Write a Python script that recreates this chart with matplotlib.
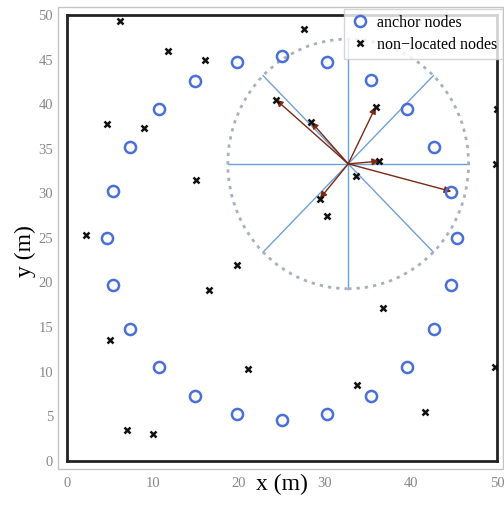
import matplotlib
matplotlib.use("Agg")
import matplotlib.pyplot as plt
from matplotlib.patches import Circle, Rectangle
import numpy as np

plt.rcParams['font.family'] = ['Liberation Serif', 'DejaVu Serif']

anchor_x = [19.8, 25.0, 30.2, 35.3, 39.5, 42.7, 44.7, 45.4, 44.7, 42.7, 39.5, 35.3,
            30.2, 25.0, 19.8, 14.9, 10.7, 7.3, 5.3, 4.6, 5.3, 7.3, 10.7, 14.9]
anchor_y = [44.7, 45.4, 44.7, 42.7, 39.4, 35.2, 30.2, 25.0, 19.7, 14.8, 10.5, 7.3,
            5.3, 4.6, 5.3, 7.3, 10.5, 14.8, 19.7, 25.0, 30.3, 35.2, 39.4, 42.6]

node_x = [6.2, 11.7, 16.1, 4.7, 9.0, 15.0, 2.2, 27.6, 24.3, 28.4, 35.9, 36.3, 33.6,
          29.4, 30.2, 50.0, 49.9, 19.8, 16.5, 5.0, 21.1, 7.0, 10.0, 36.7, 33.7, 41.6, 49.8]
node_y = [49.3, 46.0, 45.0, 37.8, 37.3, 31.5, 25.3, 48.4, 40.5, 38.0, 39.7, 33.6, 31.9,
          29.4, 27.5, 39.4, 33.3, 22.0, 19.1, 13.5, 10.3, 3.4, 3.0, 17.1, 8.5, 5.5, 10.5]

center = (32.7, 33.3)
radius = 14.0
ray_angles = [0, 45, 90, 135, 180, 225, 270, 315]
arrow_tx = [24.3, 28.4, 35.9, 36.3, 44.7, 29.4]
arrow_ty = [40.5, 38.0, 39.7, 33.6, 30.2, 29.4]

fig = plt.figure(figsize=(5.04, 5.16), dpi=100)
ax = fig.add_axes([0.133, 0.107, 0.853, 0.864])

# outer light frame
fig.patches.append(Rectangle((58 / 504, 1 - 469 / 516), (503 - 58) / 504, (469 - 7) / 516,
                             transform=fig.transFigure, fill=False,
                             edgecolor='#c4c4c4', lw=1.0, zorder=0))

# sector rays
for a in ray_angles:
    t = np.deg2rad(a)
    ax.plot([center[0], center[0] + radius * np.cos(t)],
            [center[1], center[1] + radius * np.sin(t)],
            color='#6fa0d8', lw=1.0, zorder=1)

circ = Circle(center, radius, fill=False, edgecolor='#a9b0bf', lw=2.0,
              linestyle=(0, (1.2, 1.8)), zorder=1)
ax.add_patch(circ)

for tx, ty in zip(arrow_tx, arrow_ty):
    ax.annotate('', xy=(tx, ty), xytext=center,
                arrowprops=dict(arrowstyle='-|>', color='#7a2a12', lw=1.0,
                                mutation_scale=10, shrinkA=0, shrinkB=0), zorder=3)

ax.plot(anchor_x, anchor_y, 'o', ls='none', mfc='none', mec='#4a70d8', ms=8,
        mew=1.8, label='anchor nodes', zorder=4)
ax.plot(node_x, node_y, 'x', ls='none', color='#111111', ms=4.5, mew=1.8,
        label='non\u2212located nodes', zorder=5)

ax.set_xlim(0, 50)
ax.set_ylim(0, 50)
ax.set_xticks(range(0, 51, 10))
ax.set_yticks(range(0, 51, 5))
ax.tick_params(colors='#888888', labelsize=10.5, length=0)
ax.tick_params(axis='x', pad=12)
ax.tick_params(axis='y', pad=10)
for s in ax.spines.values():
    s.set_linewidth(2.0)
    s.set_color('#222222')

ax.set_xlabel('x (m)', fontsize=17)
ax.set_ylabel('y (m)', fontsize=17)
ax.xaxis.set_label_coords(0.5, -0.030)
ax.yaxis.set_label_coords(-0.072, 0.47)

leg = ax.legend(loc='upper right', bbox_to_anchor=(503 / 504, 1 - 9 / 516),
                bbox_transform=fig.transFigure, fontsize=11.5, frameon=True,
                fancybox=False, edgecolor='#cccccc', handletextpad=0.4,
                borderpad=0.35, labelspacing=0.4, handlelength=1.3,
                borderaxespad=0)
leg.get_frame().set_linewidth(1.0)
leg.set_zorder(10)

fig.savefig('out.png', dpi=100)
